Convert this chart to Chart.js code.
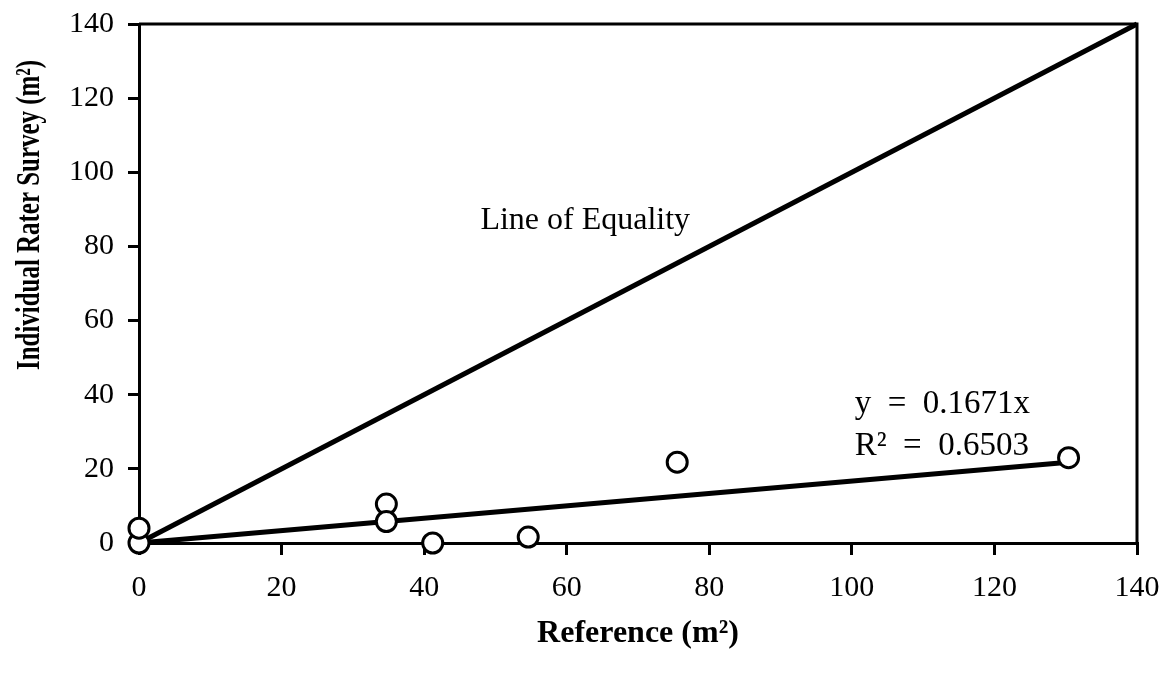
<!DOCTYPE html>
<html lang="en">
<head>
<meta charset="UTF-8">
<title>Individual Rater Survey vs Reference</title>
<script src="https://cdn.jsdelivr.net/npm/chart.js"></script>
<style>
  body { margin: 0; background: #fff; }
</style>
</head>
<body>
<canvas id="raterChart" width="1171" height="681"></canvas>
<script>
// areas in m2: reference measurement vs individual rater survey
const referenceArea = [0, 0, 34.7, 34.7, 41.2, 54.6, 75.5, 130.4];
const raterArea = [0, 4, 10.5, 5.8, 0, 1.6, 21.8, 23];
const axisTicks = [0, 20, 40, 60, 80, 100, 120, 140];

// fitted line through origin
const trendSlope = 0.1671;
const rSquared = 0.6503;

const serif = '"Liberation Serif", "Times New Roman", serif';
const axisMax = axisTicks[axisTicks.length - 1];
const refMax = Math.max(...referenceArea);

const points = referenceArea.map((x, i) => ({ x: x, y: raterArea[i] }));

// frame, text labels and the rotated y title
const extras = {
    id: 'extras',
    afterDraw(chart) {
        const { ctx, chartArea: a, scales: { x, y } } = chart;
        ctx.save();
        ctx.strokeStyle = '#000';
        ctx.lineWidth = 3;
        ctx.beginPath();
        ctx.moveTo(a.left, a.top);
        ctx.lineTo(a.right, a.top);
        ctx.lineTo(a.right, a.bottom);
        ctx.stroke();

        ctx.fillStyle = '#000';
        ctx.font = '32px ' + serif;
        ctx.textBaseline = 'middle';
        ctx.textAlign = 'center';
        ctx.fillText('Line of Equality', x.getPixelForValue(62.6), y.getPixelForValue(87));

        ctx.font = '33px ' + serif;
        ctx.textAlign = 'left';
        ctx.fillText('y  =  ' + trendSlope + 'x', x.getPixelForValue(100.4), y.getPixelForValue(37.5));
        ctx.fillText('R\u00B2  =  ' + rSquared, x.getPixelForValue(100.4), y.getPixelForValue(26));

        // y axis title, condensed like the original typesetting
        const title = 'Individual Rater Survey (m\u00B2)';
        ctx.font = 'bold 34px ' + serif;
        const w = ctx.measureText(title).width;
        const k = Math.min(1, 310 / w);
        ctx.translate(30, 215);
        ctx.rotate(-Math.PI / 2);
        ctx.scale(k, 1);
        ctx.textAlign = 'center';
        ctx.fillText(title, 0, 0);
        ctx.restore();
    }
};

new Chart(document.getElementById('raterChart'), {
    type: 'scatter',
    data: {
        datasets: [
            {
                label: 'Survey',
                data: points,
                pointRadius: 10,
                pointBorderWidth: 3,
                pointBorderColor: '#000',
                pointBackgroundColor: '#fff',
                clip: false,
                order: 0
            },
            {
                label: 'Line of Equality',
                type: 'line',
                data: [{ x: 0, y: 0 }, { x: axisMax, y: axisMax }],
                borderColor: '#000',
                borderWidth: 5,
                pointRadius: 0,
                clip: false,
                order: 1
            },
            {
                label: 'Trend',
                type: 'line',
                data: [{ x: 0, y: 0 }, { x: refMax, y: trendSlope * refMax }],
                borderColor: '#000',
                borderWidth: 5,
                pointRadius: 0,
                clip: false,
                order: 1
            }
        ]
    },
    options: {
        responsive: false,
        animation: false,
        layout: { padding: { top: 24, right: 34, bottom: 0, left: 0 } },
        plugins: {
            legend: { display: false },
            tooltip: { enabled: false }
        },
        scales: {
            x: {
                type: 'linear',
                min: axisTicks[0],
                max: axisMax,
                afterFit(scale) {
                    scale.height = 138;
                    scale.paddingLeft = 0;
                    scale.paddingRight = 0;
                },
                afterBuildTicks(scale) { scale.ticks = axisTicks.map(v => ({ value: v })); },
                ticks: { color: '#000', padding: 15, font: { family: serif, size: 30 } },
                grid: { drawOnChartArea: false, color: '#000', lineWidth: 3, tickLength: 12 },
                border: { color: '#000', width: 3 },
                title: {
                    display: true,
                    text: 'Reference (m\u00B2)',
                    color: '#000',
                    font: { family: serif, size: 32, weight: 'bold' },
                    padding: { top: 0, bottom: 28 }
                }
            },
            y: {
                type: 'linear',
                min: axisTicks[0],
                max: axisMax,
                afterFit(scale) {
                    scale.width = 139;
                    scale.paddingTop = 0;
                    scale.paddingBottom = 0;
                },
                afterBuildTicks(scale) { scale.ticks = axisTicks.map(v => ({ value: v })); },
                ticks: { color: '#000', padding: 14, font: { family: serif, size: 30 } },
                grid: { drawOnChartArea: false, color: '#000', lineWidth: 3, tickLength: 11 },
                border: { color: '#000', width: 3 }
            }
        }
    },
    plugins: [extras]
});
</script>
</body>
</html>
